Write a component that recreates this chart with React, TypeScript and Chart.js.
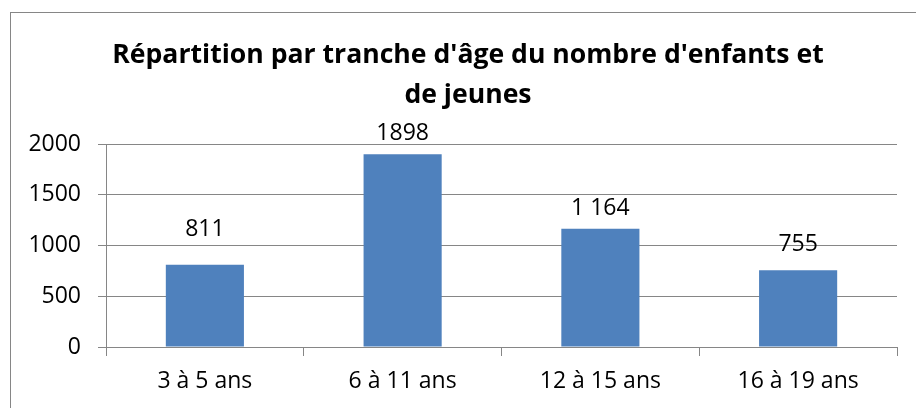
import React, { useEffect, useRef } from "react";
import { Chart, registerables } from "chart.js";

Chart.register(...registerables);

const categories = ["3 à 5 ans", "6 à 11 ans", "12 à 15 ans", "16 à 19 ans"];
const values = [811, 1898, 1164, 755];
const valueLabels = ["811", "1898", "1 164", "755"];
const titleLines = ["Répartition par tranche d'âge du nombre d'enfants et", "de jeunes"];
const yMin = 0;
const yMax = 2000;
const yStep = 500;

const GRID = "#868686";
const BAR = "#4F81BD";
const FONT = "'Open Sans', 'Noto Sans', sans-serif";
// vertical gap (px) between each bar top and its value label baseline
const LABEL_GAPS = [29, 14, 14, 19];

const framePlugin = {
  id: "frame",
  beforeDraw(chart: any) {
    const ctx = chart.ctx;
    ctx.save();
    ctx.strokeStyle = GRID;
    ctx.lineWidth = 1;
    ctx.strokeRect(10.5, 12.5, 2000, 2000);
    ctx.restore();
  },
};

const titlePlugin = {
  id: "twoLineTitle",
  afterDraw(chart: any) {
    const ctx = chart.ctx;
    ctx.save();
    ctx.fillStyle = "#000";
    ctx.font = `bold 26.6px ${FONT}`;
    ctx.textAlign = "center";
    ctx.textBaseline = "alphabetic";
    titleLines.forEach((line, i) => {
      ctx.fillText(line, 468, 63 + i * 40);
    });
    ctx.restore();
  },
};

const valueLabelPlugin = {
  id: "valueLabels",
  afterDatasetsDraw(chart: any) {
    const ctx = chart.ctx;
    const meta = chart.getDatasetMeta(0);
    ctx.save();
    ctx.fillStyle = "#000";
    ctx.font = `23px ${FONT}`;
    ctx.textAlign = "center";
    ctx.textBaseline = "alphabetic";
    meta.data.forEach((el: any, i: number) => {
      ctx.fillText(valueLabels[i], el.x, el.y - LABEL_GAPS[i]);
    });
    ctx.restore();
  },
};

export default function App() {
  const ref = useRef<HTMLCanvasElement>(null);
  useEffect(() => {
    document.body.style.margin = "0";
    const chart = new Chart(ref.current!, {
      type: "bar",
      data: {
        labels: categories,
        datasets: [
          {
            data: values,
            backgroundColor: BAR,
            borderWidth: 0,
            barPercentage: 0.395,
            categoryPercentage: 1,
          },
        ],
      },
      options: {
        animation: false,
        responsive: false,
        devicePixelRatio: 1,
        layout: { padding: { top: 144, left: 20, right: 19, bottom: 0 } },
        plugins: {
          legend: { display: false },
          tooltip: { enabled: false },
          title: { display: false },
        },
        scales: {
          x: {
            grid: {
              display: true,
              drawOnChartArea: false,
              drawTicks: true,
              tickLength: 9,
              color: GRID,
              offset: true,
            },
            border: { display: true, color: GRID },
            ticks: {
              color: "#000",
              font: { family: FONT, size: 23 },
              padding: 12,
              maxRotation: 0,
              autoSkip: false,
            },
            afterFit(scale: any) {
              scale.height = 61;
            },
          },
          y: {
            min: yMin,
            max: yMax,
            grid: { color: GRID, tickLength: 8 },
            border: { display: true, color: GRID },
            ticks: {
              stepSize: yStep,
              color: "#000",
              font: { family: FONT, size: 23 },
              padding: 17,
              callback: (v: any) => String(v),
            },
            afterFit(scale: any) {
              scale.width = 86;
            },
          },
        },
      },
      plugins: [framePlugin, valueLabelPlugin, titlePlugin],
    });
    return () => chart.destroy();
  }, []);
  return (
    <div style={{ width: 916, height: 408 }}>
      <canvas ref={ref} width={916} height={408} style={{ display: "block" }} />
    </div>
  );
}
